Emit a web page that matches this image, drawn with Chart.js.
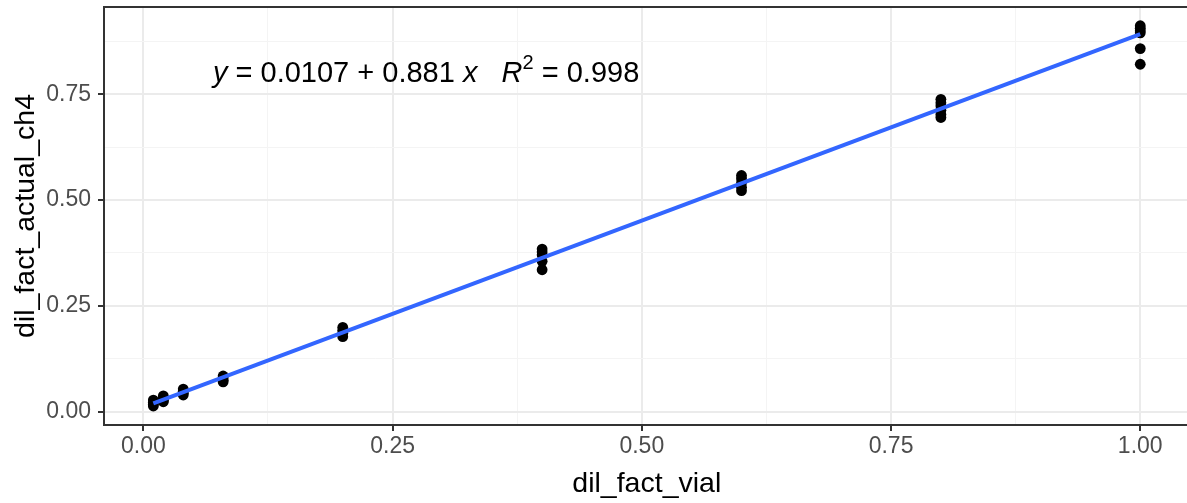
<!DOCTYPE html>
<html>
<head>
<meta charset="utf-8">
<script src="https://cdn.jsdelivr.net/npm/chart.js@4"></script>
<style>
  html, body { margin: 0; padding: 0; background: #fff; overflow: hidden; }
  #wrap { width: 1195px; height: 503px; }
</style>
</head>
<body>
<div id="wrap"><canvas id="calChart"></canvas></div>
<script>
// measured points, grouped by vial dilution
const vialX = [
  0.01, 0.01, 0.01, 0.01,
  0.02, 0.02, 0.02, 0.02,
  0.04, 0.04, 0.04, 0.04,
  0.08, 0.08, 0.08, 0.08,
  0.2, 0.2, 0.2, 0.2,
  0.4, 0.4, 0.4, 0.4, 0.4,
  0.6, 0.6, 0.6, 0.6, 0.6,
  0.8, 0.8, 0.8, 0.8, 0.8, 0.8,
  1.0, 1.0, 1.0, 1.0, 1.0, 1.0
];
const actualCh4 = [
  0.027, 0.022, 0.017, 0.013,
  0.037, 0.031, 0.026, 0.023,
  0.053, 0.048, 0.043, 0.039,
  0.084, 0.079, 0.074, 0.070,
  0.199, 0.192, 0.185, 0.177,
  0.384, 0.377, 0.370, 0.355, 0.335,
  0.558, 0.550, 0.540, 0.530, 0.522,
  0.738, 0.730, 0.722, 0.712, 0.702, 0.695,
  0.912, 0.906, 0.900, 0.895, 0.858, 0.821
];

// lm fit line ends
const fitX = [0.01, 1.0];
const fitY = [0.0195, 0.892];

// ticks (major every 0.25, minor halfway)
const xTicks = [0, 0.125, 0.25, 0.375, 0.5, 0.625, 0.75, 0.875, 1.0];
const yTicks = [0, 0.125, 0.25, 0.375, 0.5, 0.625, 0.75, 0.875];
const majorLabels = { 0: '0.00', 0.25: '0.25', 0.5: '0.50', 0.75: '0.75', 1: '1.00' };

const FONT = '"Liberation Sans", Arial, sans-serif';

function isMajor(v) {
  return majorLabels[v] !== undefined;
}

function gridFor() {
  return {
    color: ctx => isMajor(ctx.tick.value) ? '#ebebeb' : '#f4f4f4',
    lineWidth: ctx => isMajor(ctx.tick.value) ? 2 : 1,
    tickColor: ctx => isMajor(ctx.tick.value) ? '#333333' : 'rgba(0,0,0,0)',
    tickWidth: 2,
    tickLength: 6,
  };
}

// panel border + the equation label
const extras = {
  id: 'extras',
  afterDatasetsDraw(chart) {
    const c = chart.ctx;
    const a = chart.chartArea;
    c.save();
    c.strokeStyle = '#333333';
    c.lineWidth = 2;
    c.strokeRect(a.left, a.top, a.right - a.left, a.bottom - a.top);

    c.fillStyle = '#000';
    c.textBaseline = 'alphabetic';
    let x = 213;
    const y = 82;
    const size = 29;
    const parts = [
      ['y', true], [' = 0.0107', false], [' + ', false], ['0.881 ', false], ['x', true],
      ['   ', false], ['R', true], ['2', false, 'sup'], [' = 0.998', false]
    ];
    parts.forEach(p => {
      let fs = size, dy = 0;
      if (p[2] === 'sup') { fs = 20; dy = -13; }
      c.font = (p[1] ? 'italic ' : '') + fs + 'px ' + FONT;
      c.fillText(p[0], x, y + dy);
      x += c.measureText(p[0]).width;
    });
    c.restore();
  }
};

const ctx = document.getElementById('calChart').getContext('2d');
new Chart(ctx, {
  type: 'scatter',
  data: {
    datasets: [
      {
        label: 'fit',
        type: 'line',
        data: fitX.map((v, i) => ({ x: v, y: fitY[i] })),
        borderColor: '#3366FF',
        borderWidth: 4,
        pointRadius: 0,
        fill: false,
        order: 0,
      },
      {
        label: 'dil_fact_actual_ch4',
        data: vialX.map((v, i) => ({ x: v, y: actualCh4[i] })),
        backgroundColor: '#000',
        borderColor: '#000',
        pointRadius: 5.4,
        borderWidth: 0,
        order: 1,
      }
    ]
  },
  options: {
    responsive: true,
    maintainAspectRatio: false,
    animation: false,
    layout: { padding: { top: 7, right: 2, left: 0, bottom: 0 } },
    plugins: {
      legend: { display: false },
      tooltip: { enabled: false },
    },
    scales: {
      x: {
        type: 'linear',
        min: -0.0395,
        max: 1.0495,
        afterBuildTicks: scale => { scale.ticks = xTicks.map(v => ({ value: v })); },
        afterFit: scale => {
          scale.height = 78;
          scale.paddingLeft = 0;
          scale.paddingRight = 0;
        },
        grid: gridFor(),
        border: { display: false },
        ticks: {
          color: '#4d4d4d',
          font: { family: FONT, size: 23 },
          padding: 2,
          maxRotation: 0,
          autoSkip: false,
          callback: v => isMajor(v) ? majorLabels[v] : '',
        },
        title: {
          display: true,
          text: 'dil_fact_vial',
          color: '#000',
          font: { family: FONT, size: 28.5 },
          padding: { top: 0, bottom: 2 },
        },
      },
      y: {
        type: 'linear',
        min: -0.0319,
        max: 0.9563,
        afterBuildTicks: scale => { scale.ticks = yTicks.map(v => ({ value: v })); },
        afterFit: scale => {
          scale.width = 104;
          scale.paddingTop = 0;
          scale.paddingBottom = 0;
        },
        grid: gridFor(),
        border: { display: false },
        ticks: {
          color: '#4d4d4d',
          font: { family: FONT, size: 23 },
          padding: 7,
          autoSkip: false,
          callback: v => isMajor(v) ? majorLabels[v] : '',
        },
        title: {
          display: true,
          text: 'dil_fact_actual_ch4',
          color: '#000',
          font: { family: FONT, size: 28.5 },
          padding: { top: 9, bottom: 0 },
        },
      },
    },
  },
  plugins: [extras],
});
</script>
</body>
</html>
